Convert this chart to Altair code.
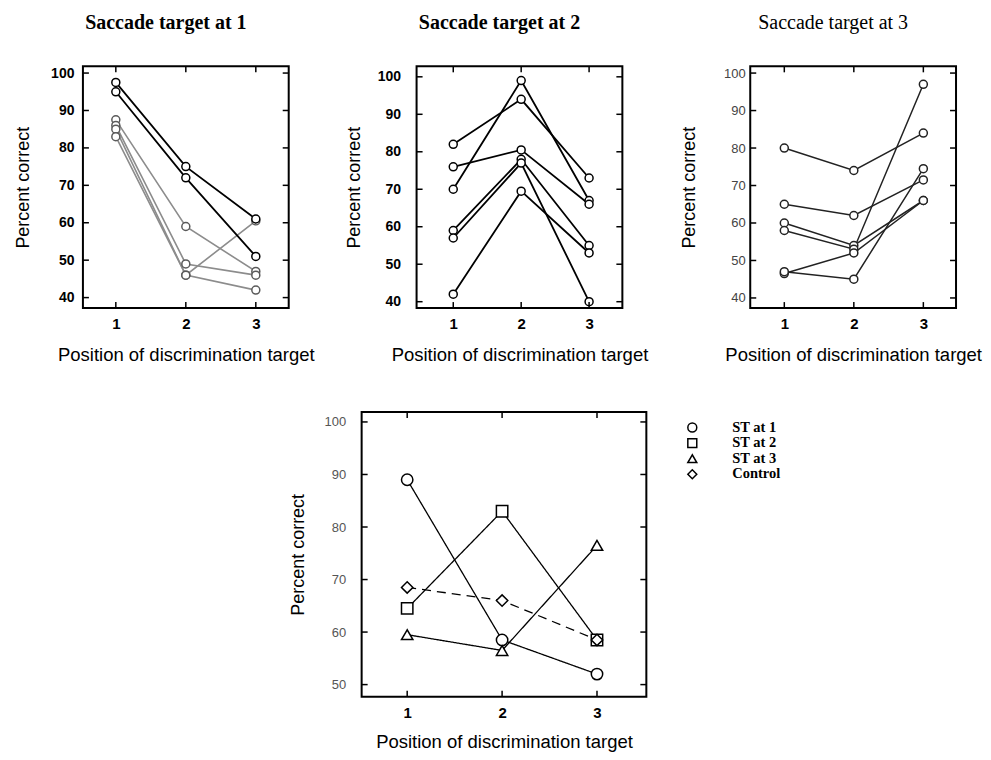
import altair as alt
import pandas as pd

# ---------------- data ----------------
positions = [1, 2, 3]
x_ticks = [1, 2, 3]
top_y_ticks = [40, 50, 60, 70, 80, 90, 100]
bottom_y_ticks = [50, 60, 70, 80, 90, 100]

# Saccade target at 1: two upper (dark) curves and four lower (grey) curves
st1_upper = [[97.5, 75, 61], [95, 72, 51]]
st1_lower = [[87.5, 59, 47], [86, 49, 46], [85, 46, 60.5], [83, 46, 42]]

# Saccade target at 2
st2_lines = [[82, 94, 73], [70, 99, 67], [76, 80.5, 66],
             [59, 78, 55], [57, 77, 40], [42, 69.5, 53]]

# Saccade target at 3
st3_lines = [[80, 74, 84], [65, 62, 71.5], [60, 54, 66],
             [58, 53, 97], [46.5, 52, 66], [47, 45, 74.5]]

# Mean panel
mean_series = ["ST at 1", "ST at 2", "ST at 3", "Control"]
mean_values = [[89, 58.5, 52], [64.5, 83, 58.5], [59.5, 56.5, 76.5], [68.5, 66, 58.5]]

SANS = "Liberation Sans"
SERIF = "Liberation Serif"
X_TITLE = "Position of discrimination target"
Y_TITLE = "Percent correct"
SHAPES = alt.Scale(domain=mean_series, range=["circle", "square", "triangle-up", "diamond"])


def long_df(lines, prefix):
    rows = []
    for i, vals in enumerate(lines):
        for p, v in zip(positions, vals):
            rows.append({"line": f"{prefix}{i}", "pos": p, "pct": v})
    return pd.DataFrame(rows)


def xy(xdom, ydom, yt, ylab_pad, ytitle_pad, ylab_size, ylab_weight, ylab_color,
       xlab_pad, xtitle_pad):
    xs = alt.Scale(domain=xdom, nice=False, zero=False)
    ys = alt.Scale(domain=ydom, nice=False, zero=False)
    x = alt.X("pos:Q", scale=xs, axis=alt.Axis(
        values=x_ticks, format="d", title=X_TITLE, labelFont=SANS, labelFontSize=15,
        labelFontWeight="bold", labelColor="black", labelPadding=xlab_pad,
        labelFlush=False, labelOverlap=False,
        ticks=False, tickSize=0, domain=False, grid=False,
        titleFont=SANS, titleFontSize=18.5, titleFontWeight="normal", titleColor="black",
        titlePadding=xtitle_pad))
    y = alt.Y("pct:Q", scale=ys, axis=alt.Axis(
        values=yt, format="d", title=Y_TITLE, labelFont=SANS, labelFontSize=ylab_size,
        labelFontWeight=ylab_weight, labelColor=ylab_color, labelPadding=ylab_pad,
        labelFlush=False, labelOverlap=False,
        ticks=False, tickSize=0, domain=False, grid=False,
        titleFont=SANS, titleFontSize=18, titleFontWeight="normal", titleColor="black",
        titlePadding=ytitle_pad))
    return x, y


def tick_rules(W, H, x, y, yt):
    ydf = pd.DataFrame({"pct": yt})
    xdf = pd.DataFrame({"pos": x_ticks})
    m = dict(color="black", strokeWidth=1.5)
    yl = alt.Chart(ydf).mark_rule(**m).encode(y=y, x=alt.value(0), x2=alt.value(6))
    yr = alt.Chart(ydf).mark_rule(**m).encode(y=y, x=alt.value(W - 6), x2=alt.value(W))
    xt = alt.Chart(xdf).mark_rule(**m).encode(x=x, y=alt.value(0), y2=alt.value(6))
    xb = alt.Chart(xdf).mark_rule(**m).encode(x=x, y=alt.value(H - 6), y2=alt.value(H))
    return [yl, yr, xt, xb]


TW, TH = 206, 242


def top_panel(groups, title, title_weight, xdom, ydom, ylab_pad, ytitle_pad,
              ylab_size, ylab_weight, ylab_color):
    x, y = xy(xdom, ydom, top_y_ticks, ylab_pad, ytitle_pad, ylab_size, ylab_weight,
              ylab_color, 8, 14)
    line_layers, point_layers = [], []
    for df, lcol, pcol, sw in groups:
        base = alt.Chart(df).encode(x=x, y=y, detail="line:N")
        line_layers.append(base.mark_line(color=lcol, strokeWidth=sw))
        point_layers.append(base.mark_point(shape="circle", filled=True, fill="white",
                                            stroke=pcol, strokeWidth=1.5, size=64,
                                            opacity=1))
    layers = line_layers + point_layers + tick_rules(TW, TH, x, y, top_y_ticks)
    return alt.layer(*layers).properties(
        width=TW, height=TH,
        title=alt.TitleParams(title, font=SERIF, fontSize=20, fontWeight=title_weight,
                              color="black", frame="group", anchor="middle", dx=-20,
                              offset=33))


p1 = top_panel([(long_df(st1_lower, "l"), "#8c8c8c", "#5a5a5a", 1.6),
                (long_df(st1_upper, "u"), "black", "black", 1.8)],
               "Saccade target at 1", "bold", [0.53, 3.47], [37.2, 101.8],
               9, 18, 14, "bold", "black")
p2 = top_panel([(long_df(st2_lines, "s"), "black", "black", 1.8)],
               "Saccade target at 2", "bold", [0.46, 3.49], [38.3, 102.8],
               16, 14, 14, "bold", "black")
p3 = top_panel([(long_df(st3_lines, "t"), "#222222", "#222222", 1.5)],
               "Saccade target at 3", "normal", [0.51, 3.47], [37.3, 101.8],
               5, 25, 13, "normal", "#444444")

# ---------------- bottom (mean) panel ----------------
BW, BH = 285, 285
bx_dom, by_dom = [0.52, 3.52], [47.7, 101.9]
mrows = []
for s, vals in zip(mean_series, mean_values):
    for p, v in zip(positions, vals):
        mrows.append({"series": s, "pos": p, "pct": v})
mdf = pd.DataFrame(mrows)

bx, byy = xy(bx_dom, by_dom, bottom_y_ticks, 16, 17, 13, "normal", "#555555", 9, 12)
mbase = alt.Chart(mdf).encode(x=bx, y=byy)
mlines = mbase.transform_calculate(dash="'d_' + datum.series").mark_line(
    color="black", strokeWidth=1.3).encode(
    detail="series:N",
    strokeDash=alt.StrokeDash("dash:N", legend=None, scale=alt.Scale(
        domain=["d_" + s for s in mean_series],
        range=[[1, 0], [1, 0], [1, 0], [9, 6]])))
mpoints = mbase.mark_point(filled=True, fill="white", stroke="black", strokeWidth=1.5,
                           size=130, opacity=1).encode(
    shape=alt.Shape("series:N", scale=SHAPES, legend=None))
p4 = alt.layer(mlines, mpoints, *tick_rules(BW, BH, bx, byy, bottom_y_ticks)) \
    .properties(width=BW, height=BH)

# ---------------- hand-drawn legend (from mean_series) ----------------
leg_df = pd.DataFrame({"series": mean_series})
leg_y = alt.Y("series:N", sort=mean_series, axis=None,
              scale=alt.Scale(type="point", padding=1.2))
leg_sym = alt.Chart(leg_df).mark_point(filled=True, fill="white", stroke="black",
                                       strokeWidth=1.5, size=80, opacity=1).encode(
    y=leg_y, x=alt.value(6), shape=alt.Shape("series:N", scale=SHAPES, legend=None))
leg_txt = alt.Chart(leg_df).mark_text(align="left", baseline="middle", font=SERIF,
                                      fontSize=14.5, fontWeight="bold", color="black").encode(
    y=leg_y, x=alt.value(46), text="series:N")
legend = alt.layer(leg_sym, leg_txt).properties(
    width=120, height=78, view=alt.ViewBackground(strokeOpacity=0))

spacer = alt.Chart(pd.DataFrame({"pos": [1], "pct": [1]})).mark_point(opacity=0).encode(
    x=alt.X("pos:Q", axis=None), y=alt.Y("pct:Q", axis=None)
).properties(width=239, height=1, view=alt.ViewBackground(strokeOpacity=0))

top = alt.hconcat(p1, p2, p3, spacing=128, bounds="flush")
bottom = alt.hconcat(spacer, p4, legend, spacing=40, bounds="flush")

chart = alt.vconcat(top, bottom, spacing=44).properties(
    padding={"left": 5, "top": 3, "right": 0, "bottom": 0},
    background="white"
).configure_view(stroke="black", strokeWidth=2)

chart.save("out.html", embed_options={"renderer": "svg", "actions": False})
